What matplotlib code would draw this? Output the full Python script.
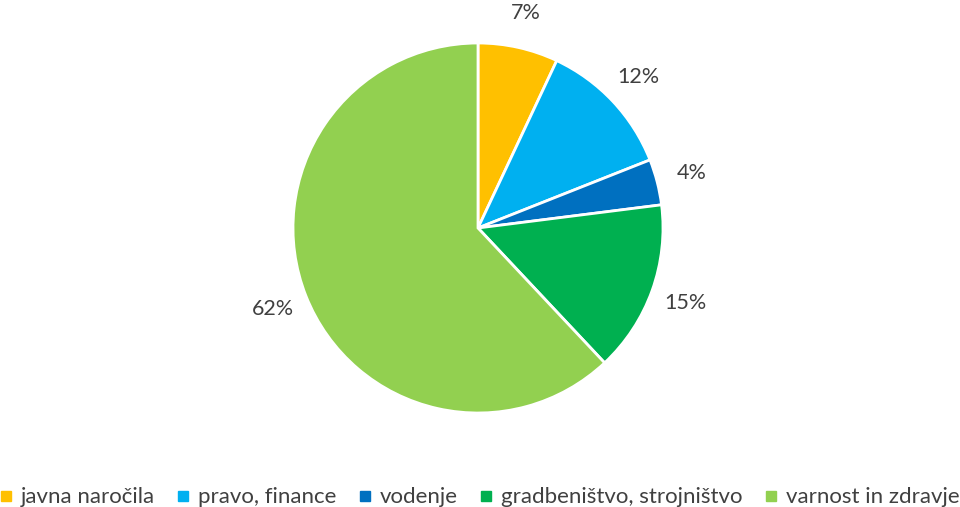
import matplotlib.pyplot as plt
from matplotlib.lines import Line2D

plt.rcParams['font.family'] = ['Lato', 'DejaVu Sans']

categories = ['javna naročila', 'pravo, finance', 'vodenje',
              'gradbeništvo, strojništvo', 'varnost in zdravje']
shares = [7, 12, 4, 15, 62]
colors = ['#FFC000', '#00B0F0', '#0070C0', '#00B050', '#92D050']
text_color = '#404040'

W, H = 960, 507
fig = plt.figure(figsize=(W / 100, H / 100), dpi=100)

cx, cy, r = 478, 507 - 228, 185
ax = fig.add_axes([(cx - r) / W, (cy - r) / H, 2 * r / W, 2 * r / H])

wedges, texts = ax.pie(shares, colors=colors, startangle=90, counterclock=False,
                       labels=[f'{v}%' for v in shares], labeldistance=1.19,
                       wedgeprops=dict(edgecolor='white', linewidth=2),
                       textprops=dict(color=text_color, fontsize=15.5))
for t in texts:
    t.set_horizontalalignment('center')
    t.set_verticalalignment('center')
ax.set_xlim(-1, 1)
ax.set_ylim(-1, 1)
ax.set_aspect('equal')
ax.axis('off')

handles = [Line2D([], [], marker='s', linestyle='none', markersize=6.5,
                  markerfacecolor=c, markeredgecolor=c) for c in colors]
leg = fig.legend(handles, categories, loc='lower center', ncol=5,
                 bbox_to_anchor=(0.5, -0.04), frameon=False, fontsize=16,
                 handlelength=0.45, handletextpad=0.45, columnspacing=1.05)
for t in leg.get_texts():
    t.set_color(text_color)

fig.savefig('out.png', dpi=100)
